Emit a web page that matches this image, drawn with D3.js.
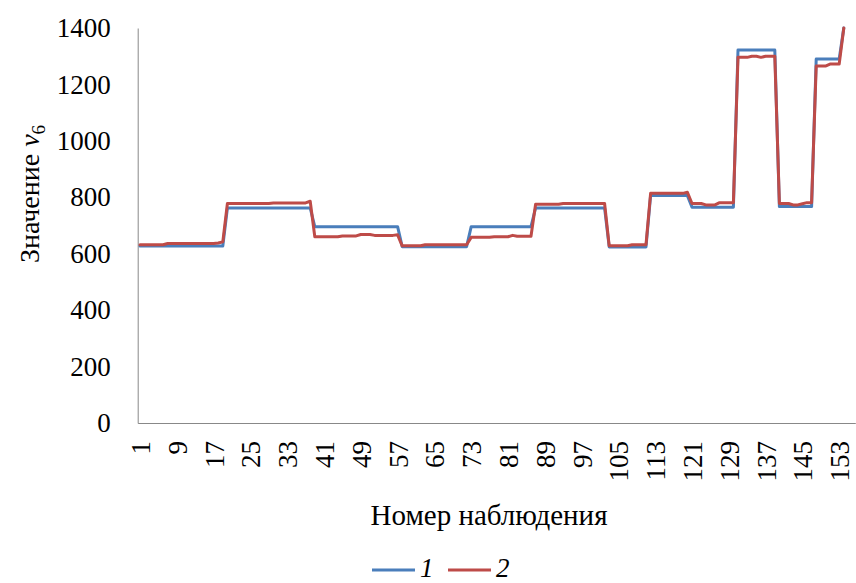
<!DOCTYPE html>
<html>
<head>
<meta charset="utf-8">
<script src="https://cdn.jsdelivr.net/npm/d3@7"></script>
<style>
  body { margin: 0; background: #fff; }
  svg { display: block; }
  svg text { font-family: "Times New Roman", "Liberation Serif", "DejaVu Serif", serif !important; fill: #000; }
</style>
</head>
<body>
<svg id="chart" width="856" height="583"></svg>
<script>
// Observation numbers 1..154
const observations = d3.range(1, 155);

// Series 1 (blue)
const series1 = [
  627,627,627,627,627,627,627,627,627,627,627,627,627,627,627,627,627,627,627,
  762,762,762,762,762,762,762,762,762,762,762,762,762,762,762,762,762,762,762,
  696,696,696,696,696,696,696,696,696,696,696,696,696,696,696,696,696,696,696,
  625,625,625,625,625,625,625,625,625,625,625,625,625,625,625,
  696,696,696,696,696,696,696,696,696,696,696,696,696,696,
  762,762,762,762,762,762,762,762,762,762,762,762,762,762,762,762,
  624,624,624,624,624,624,624,624,624,
  806,806,806,806,806,806,806,806,806,
  765,765,765,765,765,765,765,765,765,765,
  1322,1322,1322,1322,1322,1322,1322,1322,1322,
  767,767,767,767,767,767,767,767,
  1290,1290,1290,1290,1290,1290,
  1400
];

// Series 2 (red)
const series2 = [
  632,632,632,632,632,632,636,636,636,636,636,636,636,636,636,636,636,638,642,
  778,778,778,778,778,778,778,778,778,778,780,780,780,780,780,780,780,780,786,
  660,660,660,660,660,660,663,663,663,663,668,668,668,665,665,665,665,665,667,
  628,628,628,628,628,632,632,632,632,632,632,632,632,632,632,
  658,658,658,658,658,660,660,660,660,665,662,662,662,662,
  775,775,775,775,775,775,778,778,778,778,778,778,778,778,778,778,
  628,628,628,628,628,632,632,632,632,
  814,814,814,814,814,814,814,814,818,
  778,778,778,773,773,773,781,781,781,781,
  1296,1296,1296,1300,1300,1296,1300,1300,1300,
  778,778,778,773,773,777,781,781,
  1265,1265,1265,1272,1272,1272,
  1400
];

const yTicks = [0, 200, 400, 600, 800, 1000, 1200, 1400];
const xTickLabels = [1, 9, 17, 25, 33, 41, 49, 57, 65, 73, 81, 89, 97, 105, 113, 121, 129, 137, 145, 153];
const seriesNames = ["1", "2"];
const seriesColors = ["#4A7EBB", "#BE4B48"];

const svg = d3.select("#chart");
const fontSize = 27;
const plot = { left: 137.7, top: 28, bottom: 423, step: 4.6, slots: 156 };

const x = d3.scaleLinear()
  .domain([0.5, plot.slots + 0.5])
  .range([plot.left, plot.left + plot.slots * plot.step]);
const y = d3.scaleLinear().domain([0, 1400]).range([plot.bottom, plot.top]);

// Y axis
const yAxis = svg.append("g")
  .attr("transform", `translate(${plot.left},0)`)
  .call(d3.axisLeft(y).tickValues(yTicks).tickFormat(d3.format("d")).tickSize(0).tickPadding(27));
yAxis.attr("font-family", null).attr("font-size", null);
yAxis.select(".domain").attr("stroke", "#888").attr("stroke-width", 1);
yAxis.selectAll("text")
  .style("font-size", fontSize + "px")
  .attr("fill", "#000");

// X axis
const xAxis = svg.append("g")
  .attr("transform", `translate(0,${plot.bottom})`)
  .call(d3.axisBottom(x).tickValues(xTickLabels).tickFormat(d3.format("d")).tickSize(0));
xAxis.attr("font-family", null).attr("font-size", null);
xAxis.select(".domain").attr("stroke", "#888").attr("stroke-width", 1);
xAxis.selectAll("text")
  .style("font-size", fontSize + "px")
  .attr("fill", "#000")
  .attr("text-anchor", "end")
  .attr("transform", "rotate(-90)")
  .attr("x", -18)
  .attr("y", 0)
  .attr("dy", "0.35em");

// Lines
const line = d3.line()
  .x((d, i) => x(observations[i]))
  .y(d => y(d));

[series1, series2].forEach((s, k) => {
  svg.append("path")
    .datum(s)
    .attr("fill", "none")
    .attr("stroke", seriesColors[k])
    .attr("stroke-width", 3)
    .attr("stroke-linejoin", "round")
    .attr("stroke-linecap", "round")
    .attr("d", line);
});

// Axis titles
const yTitle = svg.append("text")
  .attr("transform", "translate(39,194) rotate(-90)")
  .attr("text-anchor", "middle")
  .style("font-size", "28px");
yTitle.append("tspan").text("Значение ");
yTitle.append("tspan").style("font-style", "italic").text("v");
yTitle.append("tspan").style("font-size", "19px").attr("dy", "0.3em").text("6");

svg.append("text")
  .attr("x", 489)
  .attr("y", 525)
  .attr("text-anchor", "middle")
  .style("font-size", "29px")
  .text("Номер наблюдения");

// Legend
const legend = svg.append("g");
const legendItems = [{ x: 372 }, { x: 448 }];
legendItems.forEach((it, k) => {
  legend.append("line")
    .attr("x1", it.x).attr("x2", it.x + 43)
    .attr("y1", 570).attr("y2", 570)
    .attr("stroke", seriesColors[k])
    .attr("stroke-width", 3);
  legend.append("text")
    .attr("x", it.x + 48)
    .attr("y", 577)
    .style("font-size", fontSize + "px")
    .style("font-style", "italic")
    .text(seriesNames[k]);
});
</script>
</body>
</html>
